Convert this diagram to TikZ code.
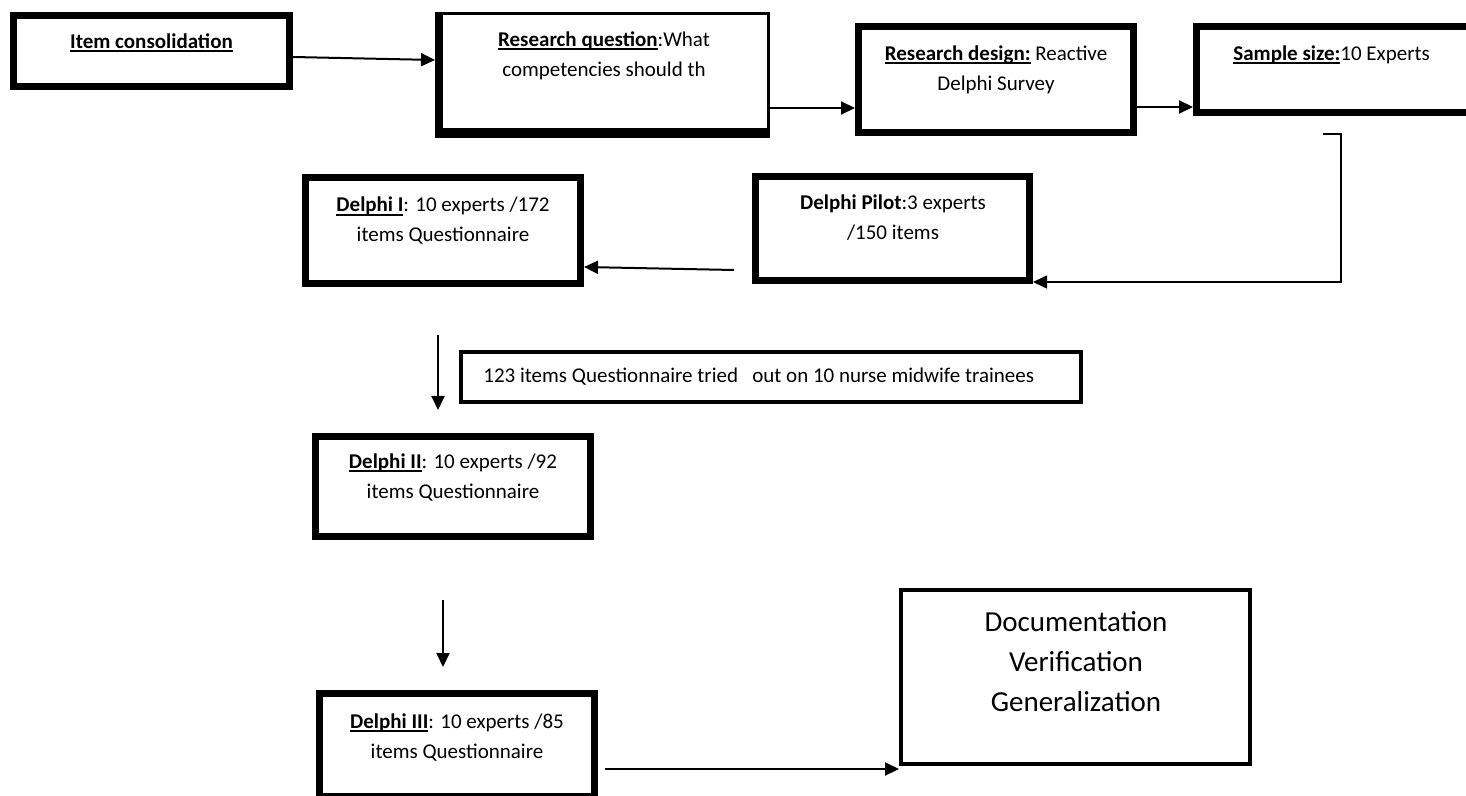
\documentclass[tikz,border=0pt]{standalone}
\usepackage{fontspec}
\setmainfont{Carlito}
\usepackage{tikz}
\usetikzlibrary{arrows.meta}

\newcommand{\undl}[1]{\setbox0\hbox{#1}\rlap{\rule[-1.8pt]{\wd0}{0.9pt}}\box0}

\tikzset{
  stage/.style={draw, line width=3.5pt, inner sep=0pt},
  thinstage/.style={draw, line width=2pt, inner sep=0pt},
  txt/.style={align=center, inner sep=0pt, font=\fontsize{10.5}{15}\selectfont},
  bigtxt/.style={align=center, inner sep=0pt, font=\fontsize{14.5}{20}\selectfont},
  flow/.style={line width=1pt, ->},
}

\begin{document}
\begin{tikzpicture}[x=0.5pt, y=-0.5pt, >={Triangle[length=7pt,width=6.5pt]}]
\useasboundingbox (0,0) rectangle (1466,796);

% top row
\node[stage, minimum width=138pt, minimum height=35.5pt] (item) at (151.5,51) {};
\node[txt] (itemtext) at (151.5,43) {\textbf{\undl{Item consolidation}}};

\node[draw, line width=1.5pt, inner sep=0pt, minimum width=166pt, minimum height=61.5pt] (rq) at (602.5,75) {};
\fill (rq.north west) rectangle ([xshift=4pt]rq.south west);
\fill ([yshift=5pt]rq.south west) rectangle (rq.south east);
\node[txt] (rqtext) at (604,56) {\textbf{\undl{Research question}}:What\\competencies should th};

\node[stage, minimum width=137.5pt, minimum height=53pt] (design) at (996,79.5) {};
\node[txt] (designtext) at (996,70) {\textbf{\undl{Research design:}} Reactive\\Delphi Survey};

\node[stage, minimum width=140pt, minimum height=43pt] (sample) at (1336.5,69.5) {};
\node[txt, anchor=west] (sampletext) at (1233,55) {\textbf{\undl{Sample size:}}10 Experts};

% second row
\node[stage, minimum width=137pt, minimum height=52pt] (pilot) at (892.5,228.5) {};
\node[txt] (pilottext) at (893,218) {\textbf{Delphi Pilot}:3 experts\\/150 items};

\node[stage, minimum width=137.5pt, minimum height=53pt] (delphiI) at (443,230.5) {};
\node[txt] (delphiItext) at (443,221) {\textbf{\undl{Delphi I}}: 10 experts /172\\items Questionnaire};

% trial and later rounds
\node[thinstage, minimum width=310pt, minimum height=25pt] (trial) at (771,377) {};
\node[txt, anchor=west] (trialtext) at (483,377) {123 items Questionnaire tried\ \ \ out on 10 nurse midwife trainees};

\node[stage, minimum width=137.5pt, minimum height=50pt] (delphiII) at (453,486.5) {};
\node[txt] (delphiIItext) at (453,477.5) {\textbf{\undl{Delphi II}}: 10 experts /92\\items Questionnaire};

\node[stage, minimum width=137.5pt, minimum height=51.5pt] (delphiIII) at (457,745) {};
\node[txt] (delphiIIItext) at (457,737.5) {\textbf{\undl{Delphi III}}: 10 experts /85\\items Questionnaire};

\node[thinstage, minimum width=174.5pt, minimum height=87pt] (doc) at (1075.5,677) {};
\node[bigtxt] (doctext) at (1076,662) {Documentation\\Verification\\Generalization};

% connectors
\coordinate (tick) at (1323,134);
\coordinate (pilotout) at (734,270);
\coordinate (down1a) at (438,335);
\coordinate (down1b) at (438,410);
\coordinate (down2a) at (443,600);
\coordinate (down2b) at (443,667);
\coordinate (lastout) at (605,769);

\draw[flow] ([yshift=-3pt]item.east) -- ([yshift=7.5pt]rq.west);
\draw[flow] ([yshift=-16.5pt]rq.east) -- ([yshift=-14.25pt]design.west);
\draw[flow] ([yshift=-13.75pt]design.east) -- ([yshift=-18.75pt]sample.west);
\draw[line width=0.8pt, ->] (tick) -- ++(18,0) |- ([yshift=1pt]pilot.south east);
\draw[flow] (pilotout) -- ([yshift=-18.25pt]delphiI.east);
\draw[flow] (down1a) -- (down1b);
\draw[flow] (down2a) -- (down2b);
\draw[flow] (lastout) -- (doc.west |- lastout);
\end{tikzpicture}
\end{document}
